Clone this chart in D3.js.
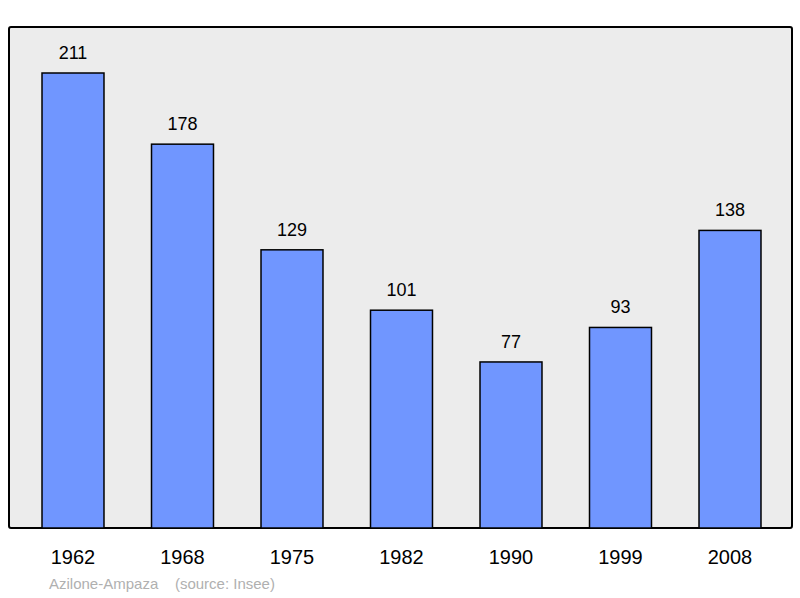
<!DOCTYPE html>
<html>
<head>
<meta charset="utf-8">
<script src="https://cdn.jsdelivr.net/npm/d3@7"></script>
<style>
  body { margin: 0; background: #fff; }
  text { font-family: "Liberation Sans", Arial, sans-serif; }
</style>
</head>
<body>
<div id="chart"></div>
<script>
const width = 800;
const height = 598;

const years = ["1962", "1968", "1975", "1982", "1990", "1999", "2008"];
const population = [211, 178, 129, 101, 77, 93, 138];

const svg = d3.select('#chart')
  .append("svg")
  .attr("width", width)
  .attr("height", height);

// frame
svg.append("rect")
  .attr("x", 9).attr("y", 27)
  .attr("width", 783).attr("height", 501)
  .attr("rx", 2)
  .attr("fill", "#ececec")
  .attr("stroke", "#000")
  .attr("stroke-width", 2);

const x = d3.scaleBand()
  .domain(years)
  .range([18.25, 784.75])
  .paddingInner(0.434)
  .paddingOuter(0.217);

const y = d3.scaleLinear()
  .domain([0, 211])
  .range([528, 73]);

const data = years.map((d, i) => ({ year: d, value: population[i] }));

svg.selectAll("rect.bar")
  .data(data)
  .enter()
  .append("rect")
  .attr("class", "bar")
  .attr("x", d => x(d.year))
  .attr("y", d => y(d.value))
  .attr("width", x.bandwidth())
  .attr("height", d => y(0) - y(d.value))
  .attr("fill", "#7096ff")
  .attr("stroke", "#000")
  .attr("stroke-width", 1.5);

svg.selectAll("text.val")
  .data(data)
  .enter()
  .append("text")
  .attr("class", "val")
  .attr("x", d => x(d.year) + x.bandwidth() / 2)
  .attr("y", d => y(d.value) - 14)
  .attr("text-anchor", "middle")
  .attr("font-size", 18)
  .text(d => d.value);

svg.selectAll("text.year")
  .data(years)
  .enter()
  .append("text")
  .attr("class", "year")
  .attr("x", d => x(d) + x.bandwidth() / 2)
  .attr("y", 564)
  .attr("text-anchor", "middle")
  .attr("font-size", 20)
  .text(d => d);

svg.append("text")
  .attr("x", 49)
  .attr("y", 589)
  .attr("font-size", 15)
  .attr("fill", "#b0b0b0")
  .attr("xml:space", "preserve")
  .text("Azilone-Ampaza    (source: Insee)");
</script>
</body>
</html>
